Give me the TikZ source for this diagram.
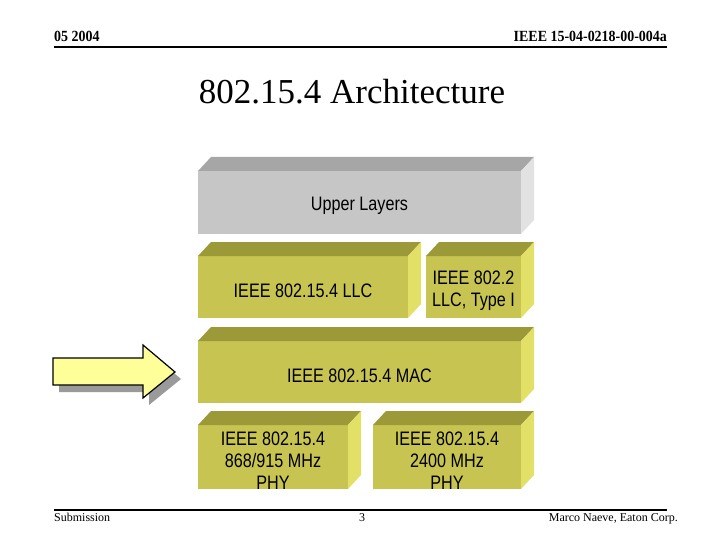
\documentclass[tikz,border=0pt]{standalone}
\usepackage{fontspec}
\setmainfont{Liberation Serif}
\setsansfont{Liberation Sans}[FakeStretch=0.83]
\newfontfamily\hdrfont{Liberation Serif}[FakeStretch=0.9]
\definecolor{grayfront}{HTML}{C6C6C6}
\definecolor{graytop}{HTML}{A6A6A6}
\definecolor{grayside}{HTML}{E2E2E2}
\definecolor{olivefront}{HTML}{C8C452}
\definecolor{olivetop}{HTML}{9C9A38}
\definecolor{oliveside}{HTML}{E2E066}
\definecolor{arrowfill}{HTML}{FFFF99}
\definecolor{shadowgray}{HTML}{9A9A9A}
\tikzset{
  front/.style={draw=none, inner sep=0pt, outer sep=0pt},
  layertext/.style={inner sep=0pt, align=center,
    font=\sffamily\fontsize{19.5}{22.2}\selectfont},
  hdr/.style={inner sep=0pt, font=\hdrfont\bfseries\fontsize{15.5}{17}\selectfont},
  ftr/.style={inner sep=0pt, font=\rmfamily\fontsize{12}{14}\selectfont},
  rule/.style={line width=2pt},
}
\newcommand{\layerbox}[7]{%
  \node[front, fill=#6front, minimum width={#3-#2}, minimum height={#5-#4}]
    (#1) at ({(#2+#3)/2},{(#4+#5)/2}) {};
  \fill[#6top] (#1.north west) -- ++(13,-14) -- ([xshift=13pt,yshift=14pt]#1.north east) -- (#1.north east) -- cycle;
  \fill[#6side] (#1.north east) -- ++(13,-14) -- ([xshift=13pt,yshift=14pt]#1.south east) -- (#1.south east) -- cycle;
  \node[layertext, yshift=-3.5pt] (#1text) at (#1.center) {#7};
}
\begin{document}
\begin{tikzpicture}[x=1pt,y=-1pt]
\useasboundingbox (0,0) rectangle (720,540);
% header
\node[hdr, anchor=base west] (date) at (54,42) {05 2004};
\node[hdr, anchor=base east] (docid) at (667,42) {IEEE 15-04-0218-00-004a};
\coordinate (hl) at (54,47.5);
\coordinate (hr) at (667,47.5);
\draw[rule] (hl) -- (hr);
% title
\node[inner sep=0pt, anchor=base, font=\fontsize{35}{40}\selectfont] (title) at (352,104) {802.15.4 Architecture};
% layers
\layerbox{upper}{198}{521}{171}{234}{gray}{Upper Layers}
\layerbox{llc}{198}{408}{256}{318}{olive}{IEEE 802.15.4 LLC}
\layerbox{llctwo}{426}{521}{256}{318}{olive}{IEEE 802.2\\LLC, Type I}
\layerbox{mac}{198}{521}{341}{403}{olive}{IEEE 802.15.4 MAC}
\layerbox{phyone}{198}{348}{425}{489}{olive}{IEEE 802.15.4\\868/915 MHz\\PHY}
\layerbox{phytwo}{373}{521}{425}{489}{olive}{IEEE 802.15.4\\2400 MHz\\PHY}
% arrow
\fill[shadowgray, shift={(6,7)}] (53,358) -- (143,358) -- (143,345) -- (175,372) -- (143,398) -- (143,385) -- (53,385) -- cycle;
\filldraw[fill=arrowfill, draw=black, line width=1.2pt, line join=miter] (53,358) -- (143,358) -- (143,345) -- (175,372) -- (143,398) -- (143,385) -- (53,385) -- cycle;
% footer
\coordinate (fl) at (54,510);
\coordinate (fr) at (667,510);
\draw[rule] (fl) -- (fr);
\node[ftr, anchor=base west] (sub) at (54,521) {Submission};
\node[ftr, anchor=base] (page) at (362,521) {3};
\node[ftr, anchor=base east] (author) at (678,521) {Marco Naeve, Eaton Corp.};
\end{tikzpicture}
\end{document}
